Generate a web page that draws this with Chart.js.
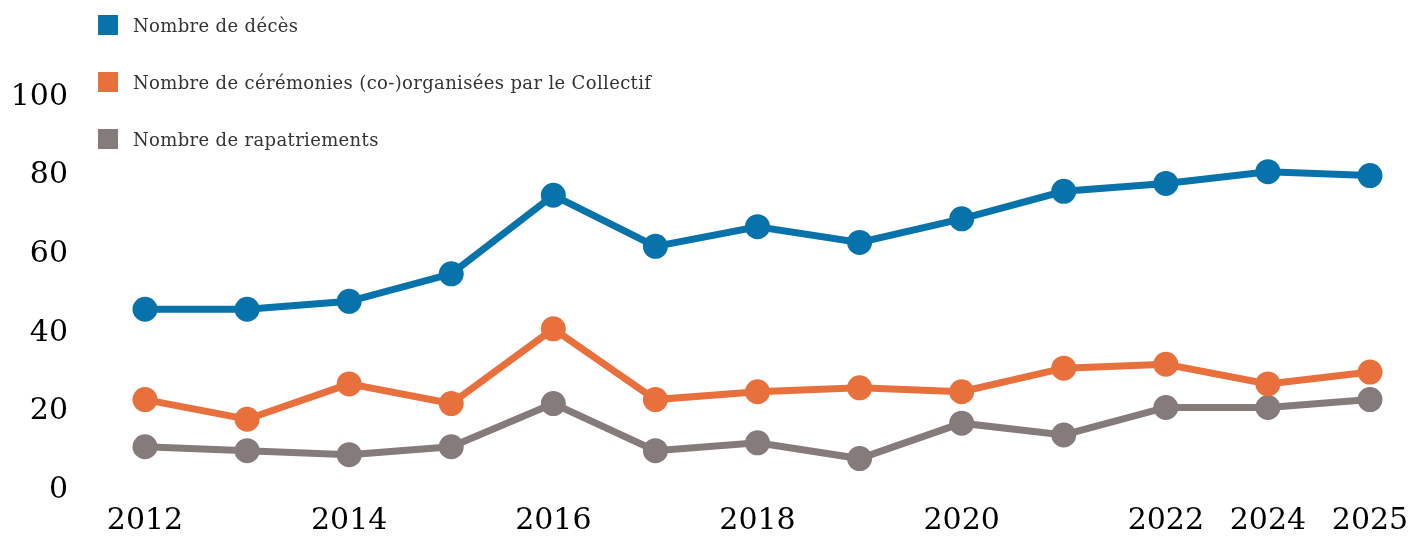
<!DOCTYPE html>
<html lang="fr">
<head>
<meta charset="utf-8">
<title>Décès, cérémonies et rapatriements</title>
<script src="https://cdn.jsdelivr.net/npm/chart.js@4.4.1/dist/chart.umd.min.js"></script>
<style>
  html, body { margin: 0; padding: 0; background: #fff; }
  #wrap { position: relative; width: 1414px; height: 537px; }
  #legend { position: absolute; left: 98px; top: 15px; font-family: "DejaVu Serif", serif; font-size: 18px; letter-spacing: 0.35px; color: #333; }
  #legend .item { display: flex; align-items: center; height: 20px; margin-bottom: 37px; }
  #legend .box { width: 20px; height: 20px; margin-right: 15px; }
</style>
</head>
<body>
<div id="wrap">
  <canvas id="chart" width="1414" height="537"></canvas>
  <div id="legend"></div>
</div>
<script>
// --- data ---
const years = ['2012', '2013', '2014', '2015', '2016', '2017', '2018', '2019', '2020', '2021', '2022', '2024', '2025'];
const shownYears = ['2012', '2014', '2016', '2018', '2020', '2022', '2024', '2025'];

const deces = [46, 46, 48, 55, 75, 62, 67, 63, 69, 76, 78, 81, 80];
const ceremonies = [23, 18, 27, 22, 41, 23, 25, 26, 25, 31, 32, 27, 30];
const rapatriements = [11, 10, 9, 11, 22, 10, 12, 8, 17, 14, 21, 21, 23];

const yTicks = [0, 20, 40, 60, 80, 100];

const seriesNames = [
    'Nombre de décès',
    'Nombre de cérémonies (co-)organisées par le Collectif',
    'Nombre de rapatriements'
];
const seriesColors = ['#0873ab', '#e8703c', '#857b7b'];

const tickFont = { family: '"DejaVu Serif", serif', size: 30 };

const makeSet = (i, values) => ({
    label: seriesNames[i],
    data: values,
    borderColor: seriesColors[i],
    backgroundColor: seriesColors[i],
    borderWidth: 7,
    pointRadius: 9,
    pointHoverRadius: 10,
    tension: 0,
    fill: false
});

new Chart(document.getElementById('chart'), {
    type: 'line',
    data: {
        labels: years,
        datasets: [makeSet(0, deces), makeSet(1, ceremonies), makeSet(2, rapatriements)]
    },
    options: {
        responsive: false,
        animation: false,
        layout: { padding: { top: 97, right: 44, left: 0, bottom: 0 } },
        plugins: {
            legend: { display: false },
            tooltip: { enabled: false }
        },
        scales: {
            x: {
                offset: false,
                grid: { display: false, drawTicks: false },
                border: { display: false },
                ticks: {
                    autoSkip: false,
                    maxRotation: 0,
                    padding: 13,
                    color: '#000',
                    font: tickFont,
                    callback: function(value) {
                        const lab = years[value];
                        return shownYears.includes(lab) ? lab : '';
                    }
                },
                afterFit: function(scale) {
                    scale.height = 47;
                    // let the last label run past the plot edge like the original
                    scale.paddingLeft = 0;
                    scale.paddingRight = 0;
                }
            },
            y: {
                min: 0,
                max: 100,
                grid: { display: false, drawTicks: false },
                border: { display: false },
                afterBuildTicks: function(scale) {
                    scale.ticks = yTicks.map(v => ({ value: v }));
                },
                ticks: {
                    padding: 77,
                    color: '#000',
                    font: tickFont
                },
                afterFit: function(scale) {
                    scale.width = 145;
                    // the big label padding would otherwise eat the bottom of the plot
                    scale.paddingTop = 0;
                    scale.paddingBottom = 0;
                }
            }
        }
    }
});

// legend drawn as html, stacked vertically like the reference
const legendEl = document.getElementById('legend');
seriesNames.forEach(function(name, i) {
    const item = document.createElement('div');
    item.className = 'item';
    const box = document.createElement('span');
    box.className = 'box';
    box.style.background = seriesColors[i];
    const txt = document.createElement('span');
    txt.textContent = name;
    item.appendChild(box);
    item.appendChild(txt);
    legendEl.appendChild(item);
});
</script>
</body>
</html>
